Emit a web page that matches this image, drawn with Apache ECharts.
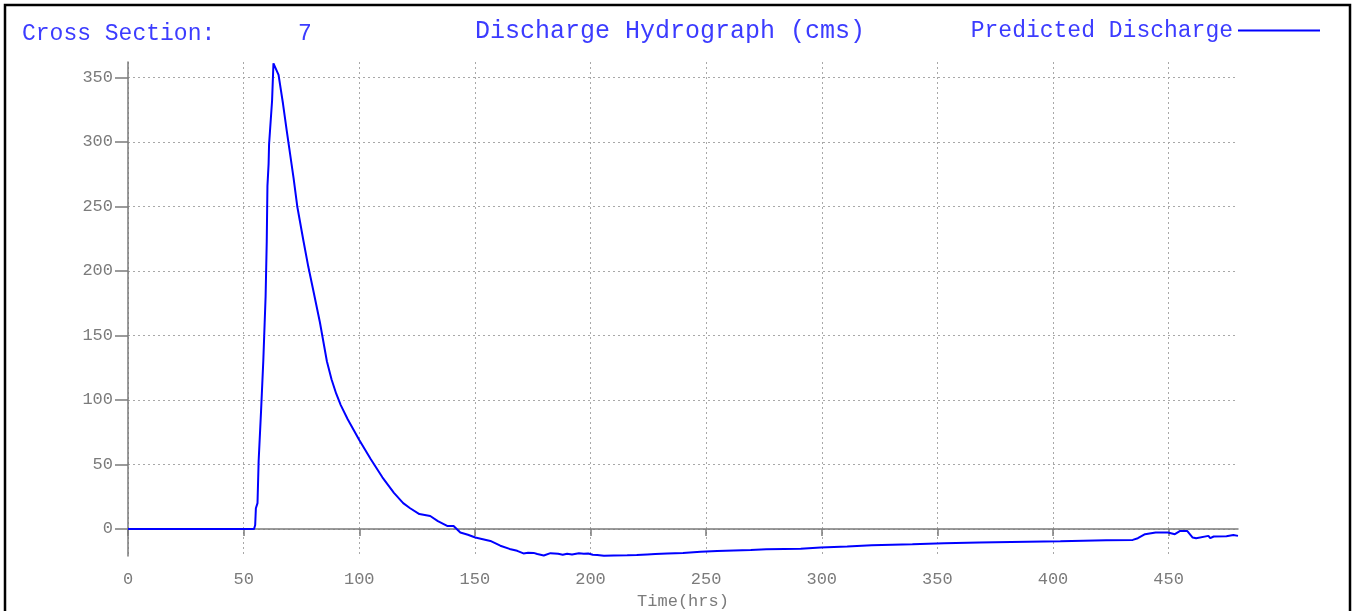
<!DOCTYPE html>
<html>
<head>
<meta charset="utf-8">
<script src="https://cdn.jsdelivr.net/npm/echarts@6/dist/echarts.min.js"></script>
<style>
  html, body { margin: 0; padding: 0; background: #fff; }
  #chart { width: 1352px; height: 611px; }
</style>
</head>
<body>
<div id="chart"></div>
<script>
const timeHrs = [
  0, 54.5, 55.0, 55.3, 56.0, 56.5, 57.5, 58.5, 59.5, 60.0, 60.3, 60.8, 61.0, 62.3, 62.9,
  65.1, 67.0, 68.7, 71.6, 73.2, 75.9, 78, 80, 83, 86, 88, 90, 92, 95, 100, 105, 110, 115, 119,
  122, 126, 130.7, 134, 138, 140.8, 143.7, 147, 150.2, 156.7, 161, 165, 168.3, 171, 173,
  175.4, 177, 179.8, 182.7, 186, 188, 189.9, 192, 195, 197.1, 199, 201, 202.9, 205.8, 210,
  215.9, 220, 224.5, 228, 233.2, 240, 247.6, 254.8, 262, 269.3, 276, 283.7, 290.9, 299.5,
  311, 321.6, 339.2, 352.9, 368.1, 381.9, 403.2, 423, 434.5, 436.7, 439.8, 444.4, 449.7,
  452.7, 455, 458, 460.4, 461.9, 467.2, 468, 469.5, 475, 478, 480
];
const discharge = [
  0, 0, 3, 16, 20, 53, 90, 130, 180, 223, 266, 283, 298, 332, 361,
  352, 330, 308, 272, 250, 223, 203, 186, 160, 130, 116, 105, 96, 85, 69, 54, 40, 28, 20,
  16, 11.5, 10, 6, 2.3, 2.3, -2.8, -4.5, -6.7, -9.3, -13, -15.5, -17, -19, -18.5,
  -18.6, -19.5, -20.6, -18.8, -19.3, -20, -19.3, -19.8, -18.9, -19.3, -19, -20, -20.2, -20.8, -20.6,
  -20.5, -20.3, -19.8, -19.5, -19.1, -18.6, -17.8, -17.2, -16.7, -16.3, -15.8, -15.5, -15.3, -14.5,
  -13.7, -12.7, -11.9, -11.1, -10.6, -10.1, -9.6, -8.8, -8.5, -7.2, -4.1, -2.8, -2.8,
  -4.1, -1.6, -1.6, -6.7, -7.2, -5.4, -7.2, -5.9, -5.6, -4.8, -5.4
];
const xTicks = [0, 50, 100, 150, 200, 250, 300, 350, 400, 450];
const yTicks = [0, 50, 100, 150, 200, 250, 300, 350];

const mono = 'Liberation Mono';
const blue = '#3c3cff';
const grey = '#7b7b7b';

const chart = echarts.init(document.getElementById('chart'));

const option = {
  animation: false,
  title: [
    { text: 'Cross Section:      7', left: 22, top: 22, padding: 0,
      textStyle: { color: blue, fontFamily: mono, fontSize: 23, fontWeight: 'normal' } },
    { text: 'Discharge Hydrograph (cms)', left: 475, top: 19, padding: 0,
      textStyle: { color: blue, fontFamily: mono, fontSize: 25, fontWeight: 'normal' } }
  ],
  legend: {
    data: ['Predicted Discharge'],
    right: 32, top: 19, padding: 0,
    align: 'right',
    icon: 'rect', itemWidth: 82, itemHeight: 2,
    textStyle: { color: blue, fontFamily: mono, fontSize: 23 }
  },
  graphic: [{
    type: 'rect', silent: true,
    shape: { x: 5, y: 5, width: 1345, height: 700 },
    style: { fill: 'none', stroke: '#000', lineWidth: 2.5 }
  }],
  grid: { left: 128, right: 114, top: 62, bottom: 55, outerBoundsMode: 'none' },
  xAxis: [
    {
      // zero line with ticks
      type: 'value', min: 0, max: 480, position: 'bottom',
      axisLine: { onZero: true, lineStyle: { color: grey, width: 1.5 } },
      axisTick: { show: true, length: 7, customValues: xTicks, lineStyle: { color: grey, width: 1.5 } },
      axisLabel: { show: false },
      splitLine: { show: true, lineStyle: { color: '#a8a8a8', type: [2, 3], width: 1 } }
    },
    {
      // labels at the bottom of the plot
      type: 'value', min: 0, max: 480, position: 'bottom',
      axisLine: { show: false, onZero: false },
      axisTick: { show: false, customValues: xTicks },
      axisLabel: { customValues: xTicks, margin: 15, color: grey, fontFamily: mono, fontSize: 17 },
      splitLine: { show: false },
      name: 'Time(hrs)', nameLocation: 'middle', nameGap: 32,
      nameTextStyle: { color: grey, fontFamily: mono, fontSize: 17 }
    }
  ],
  yAxis: {
    type: 'value', min: -21, max: 362,
    axisLine: { show: true, lineStyle: { color: grey, width: 1.5 } },
    axisTick: { show: true, length: 13, customValues: yTicks, lineStyle: { color: grey, width: 1.5 } },
    axisLabel: { customValues: yTicks, margin: 15, color: grey, fontFamily: mono, fontSize: 17 },
    splitLine: { show: true, lineStyle: { color: '#a8a8a8', type: [2, 3], width: 1 } }
  },
  series: [{
    name: 'Predicted Discharge',
    type: 'line',
    xAxisIndex: 0,
    showSymbol: false,
    color: '#0000ff',
    lineStyle: { color: '#0000ff', width: 2 },
    data: timeHrs.map((t, i) => [t, discharge[i]])
  }]
};

chart.setOption(option);
</script>
</body>
</html>
